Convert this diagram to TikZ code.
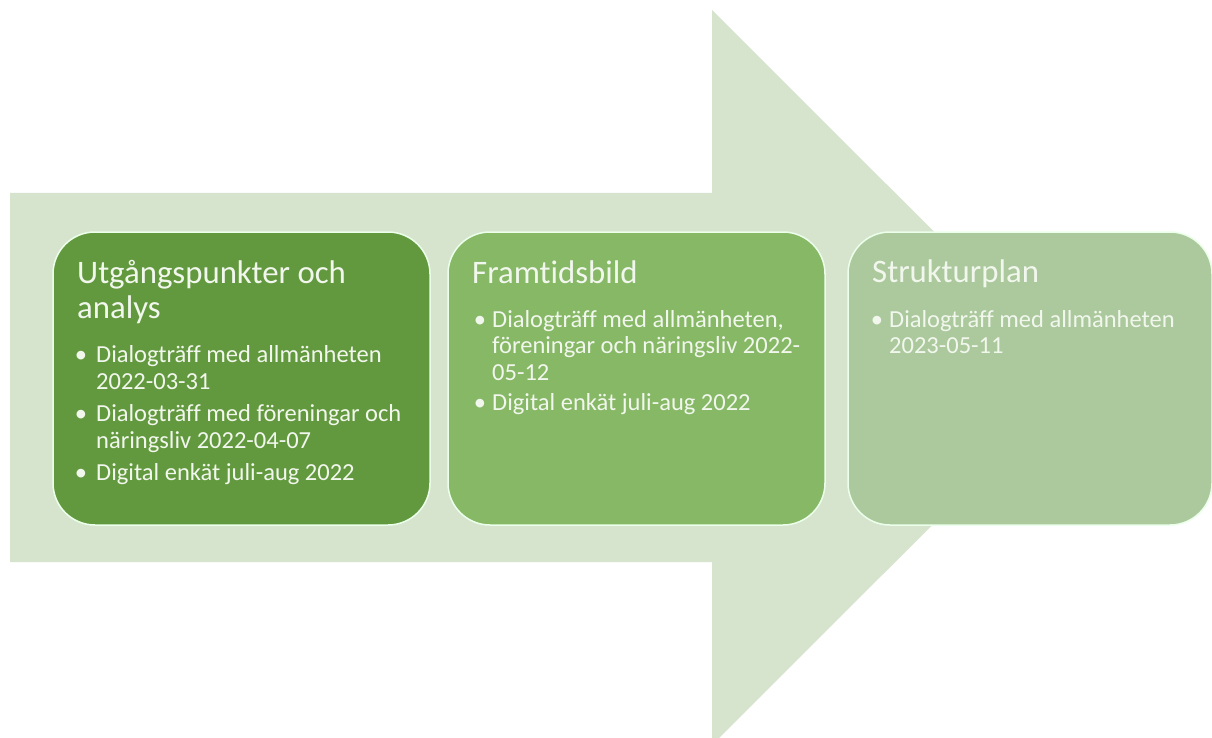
\documentclass[tikz,border=0pt]{standalone}
\usepackage{fontspec}
\setmainfont{Carlito}[Ligatures={NoCommon}]
\definecolor{arrowgreen}{HTML}{D6E4CD}
\definecolor{boxA}{HTML}{63993E}
\definecolor{boxB}{HTML}{86B866}
\definecolor{boxC}{HTML}{ABC99C}
\definecolor{txt}{HTML}{F2F7EE}
\tikzset{
  stagebox/.style={draw=white!92!green, line width=1.5pt, rounded corners=42pt, inner sep=0pt},
  titletext/.style={anchor=base west, inner sep=0pt, text=txt, font=\fontsize{32.8}{38}\selectfont},
  itemtext/.style={anchor=base west, inner sep=0pt, text=txt, font=\fontsize{24.5}{27}\selectfont},
  bulletdot/.style={anchor=base, inner sep=0pt, text=txt, font=\fontsize{24.5}{27}\selectfont},
}
\begin{document}
\begin{tikzpicture}[x=1pt,y=-1pt]
\useasboundingbox (0,0) rectangle (1212,738);
\fill[white] (0,0) rectangle (1212,738);
\begin{scope}
\clip (0,0) rectangle (1212,738);
\fill[arrowgreen] (10,193) -- (712,193) -- (712,10) -- (1080,377.5) -- (712,745) -- (712,562) -- (10,562) -- cycle;
\end{scope}
% boxes
\draw[stagebox, fill=boxA] (53,232) rectangle (430,525);
\node[inner sep=0pt] (b1) at (241.5,378.5) {};
\draw[stagebox, fill=boxB] (448,232) rectangle (825,525);
\node[inner sep=0pt] (b2) at (636.5,378.5) {};
\draw[stagebox, fill=boxC] (848,232) rectangle (1212,525);
\node[inner sep=0pt] (b3) at (1030,378.5) {};
% box 1 text
\node[titletext] (t1a) at (77,283) {Utgångspunkter och};
\node[titletext] (t1b) at (77,318) {analys};
\node[bulletdot] (d1a) at (81,362) {•};
\node[itemtext] (i1a) at (96,362) {Dialogträff med allmänheten};
\node[itemtext] (i1b) at (96,389) {2022-03-31};
\node[bulletdot] (d1b) at (81,421) {•};
\node[itemtext] (i1c) at (96,421) {Dialogträff med föreningar och};
\node[itemtext] (i1d) at (96,448) {näringsliv 2022-04-07};
\node[bulletdot] (d1c) at (81,480) {•};
\node[itemtext] (i1e) at (96,480) {Digital enkät juli-aug 2022};
% box 2 text
\node[titletext] (t2a) at (472,283) {Framtidsbild};
\node[bulletdot] (d2a) at (480,327) {•};
\node[itemtext] (i2a) at (492,327) {Dialogträff med allmänheten,};
\node[itemtext] (i2b) at (492,353) {föreningar och näringsliv 2022-};
\node[itemtext] (i2c) at (492,380) {05-12};
\node[bulletdot] (d2b) at (480,410) {•};
\node[itemtext] (i2d) at (492,410) {Digital enkät juli-aug 2022};
% box 3 text
\node[titletext] (t3a) at (872,282) {Strukturplan};
\node[bulletdot] (d3a) at (877,327) {•};
\node[itemtext] (i3a) at (889,327) {Dialogträff med allmänheten};
\node[itemtext] (i3b) at (889,353) {2023-05-11};
\end{tikzpicture}
\end{document}
